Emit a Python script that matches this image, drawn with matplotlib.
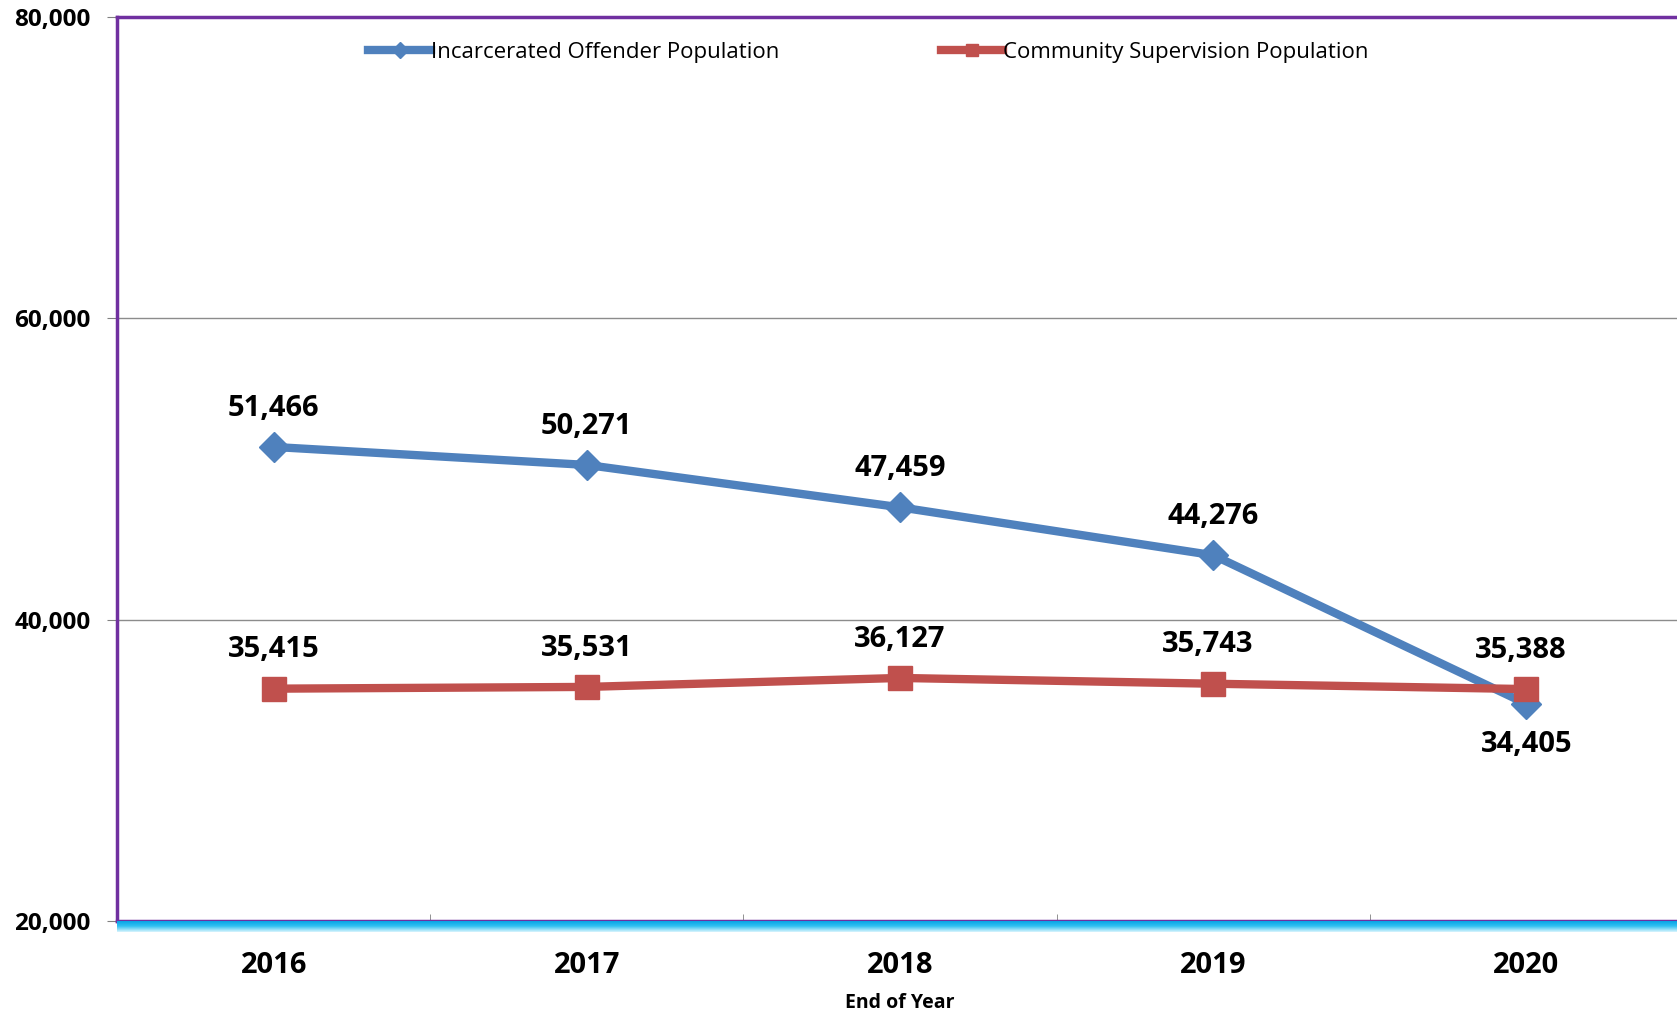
import matplotlib.pyplot as plt
import numpy as np
from matplotlib.ticker import FuncFormatter
from matplotlib.colors import LinearSegmentedColormap

plt.rcParams['font.family'] = ['Open Sans', 'DejaVu Sans']

years = ['2016', '2017', '2018', '2019', '2020']
incarcerated = [51466, 50271, 47459, 44276, 34405]
community = [35415, 35531, 36127, 35743, 35388]

blue = '#4F81BD'
red = '#C0504D'
purple = '#7030A0'

fig = plt.figure(figsize=(16.77, 10.13), dpi=100)
ax = fig.add_axes([0.0698, 0.091, 0.9338, 0.892])

x = np.arange(len(years))
ax.plot(x, incarcerated, color=blue, lw=6, marker='D', ms=15,
        label='Incarcerated Offender Population', zorder=3)
ax.plot(x, community, color=red, lw=6, marker='s', ms=17,
        label='Community Supervision Population', zorder=4)

# data labels
for i, v in enumerate(incarcerated):
    off = -29 if i == len(incarcerated) - 1 else 28
    ax.annotate(f'{v:,}', (x[i], v), xytext=(0, off), textcoords='offset points',
                ha='center', va='center', fontsize=21, fontweight='bold')
for i, v in enumerate(community):
    ax.annotate(f'{v:,}', (x[i], v), xytext=(-4 if i in (3, 4) else 0, 28),
                textcoords='offset points',
                ha='center', va='center', fontsize=21, fontweight='bold')

ax.set_xlim(-0.5, len(years) - 0.5)
ax.set_ylim(20000, 80000)
ax.set_yticks([20000, 40000, 60000, 80000])
ax.yaxis.set_major_formatter(FuncFormatter(lambda v, p: f'{int(v):,}'))
ax.set_xticks(x)
ax.set_xticklabels(years)
ax.set_xticks(np.arange(-0.5, len(years)), minor=True)
ax.tick_params(axis='x', which='major', length=0, pad=22, labelsize=21)
ax.tick_params(axis='x', which='minor', length=10, color='#808080', direction='inout')
ax.tick_params(axis='y', length=7, color='#808080', labelsize=17.5, pad=12)
for lab in ax.get_xticklabels() + ax.get_yticklabels():
    lab.set_fontweight('bold')

ax.grid(axis='y', color='#8c8c8c', lw=1)
ax.set_axisbelow(True)

for s in ['top', 'left', 'bottom']:
    ax.spines[s].set_color(purple)
    ax.spines[s].set_linewidth(2.5)
ax.spines['right'].set_visible(False)

# cyan band beneath the plot area
band = fig.add_axes([0.0698, 0.080, 0.9338, 0.011])
grad = np.linspace(0, 1, 50).reshape(-1, 1)
band.imshow(grad, aspect='auto', extent=[0, 1, 0, 1],
            cmap=LinearSegmentedColormap.from_list('c', ['#009EE3', '#30C0F2', '#D8F4FD']))
band.set_axis_off()

ax.set_xlabel('End of Year', fontsize=14, fontweight='bold', labelpad=9)

ax.legend(loc='upper center', bbox_to_anchor=(0.48, 0.995), ncol=2, frameon=False,
          fontsize=16, handlelength=2.8, handletextpad=0.0, columnspacing=7.3,
          markerscale=0.55)

fig.savefig('out.png', dpi=100)
